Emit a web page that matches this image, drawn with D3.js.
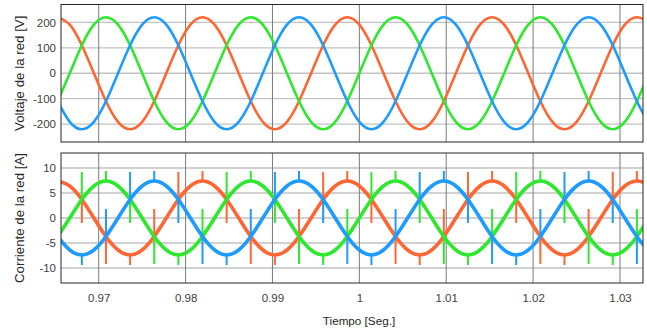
<!DOCTYPE html>
<html>
<head>
<meta charset="utf-8">
<script src="https://cdn.jsdelivr.net/npm/d3@7"></script>
<style>
  body { margin: 0; background: #fff; }
  svg { display: block; font-family: "Liberation Sans", Arial, sans-serif; }
  .tick-label { font-size: 11.5px; fill: #404040; }
  .axis-title { fill: #262626; }
</style>
</head>
<body>
<div id="chart"></div>
<script>
// samples, one every 30 electrical degrees (60 Hz)
const sampleStart = 0.96528;
const sampleStep = 1 / 720;

const voltsOrange = [220, 191, 110, 0, -110, -191, -220, -191, -110, 0, 110, 191,
  220, 191, 110, 0, -110, -191, -220, -191, -110, 0, 110, 191,
  220, 191, 110, 0, -110, -191, -220, -191, -110, 0, 110, 191,
  220, 191, 110, 0, -110, -191, -220, -191, -110, 0, 110, 191,
  220, 191, 110];
const voltsGreen = [-110, 0, 110, 191, 220, 191, 110, 0, -110, -191, -220, -191,
  -110, 0, 110, 191, 220, 191, 110, 0, -110, -191, -220, -191,
  -110, 0, 110, 191, 220, 191, 110, 0, -110, -191, -220, -191,
  -110, 0, 110, 191, 220, 191, 110, 0, -110, -191, -220, -191,
  -110, 0, 110];
const voltsBlue = [-110, -191, -220, -191, -110, 0, 110, 191, 220, 191, 110, 0,
  -110, -191, -220, -191, -110, 0, 110, 191, 220, 191, 110, 0,
  -110, -191, -220, -191, -110, 0, 110, 191, 220, 191, 110, 0,
  -110, -191, -220, -191, -110, 0, 110, 191, 220, 191, 110, 0,
  -110, -191, -220];

const ampsOrange = [7.4, 6.4, 3.7, 0, -3.7, -6.4, -7.4, -6.4, -3.7, 0, 3.7, 6.4,
  7.4, 6.4, 3.7, 0, -3.7, -6.4, -7.4, -6.4, -3.7, 0, 3.7, 6.4,
  7.4, 6.4, 3.7, 0, -3.7, -6.4, -7.4, -6.4, -3.7, 0, 3.7, 6.4,
  7.4, 6.4, 3.7, 0, -3.7, -6.4, -7.4, -6.4, -3.7, 0, 3.7, 6.4,
  7.4, 6.4, 3.7];
const ampsGreen = [-3.7, 0, 3.7, 6.4, 7.4, 6.4, 3.7, 0, -3.7, -6.4, -7.4, -6.4,
  -3.7, 0, 3.7, 6.4, 7.4, 6.4, 3.7, 0, -3.7, -6.4, -7.4, -6.4,
  -3.7, 0, 3.7, 6.4, 7.4, 6.4, 3.7, 0, -3.7, -6.4, -7.4, -6.4,
  -3.7, 0, 3.7, 6.4, 7.4, 6.4, 3.7, 0, -3.7, -6.4, -7.4, -6.4,
  -3.7, 0, 3.7];
const ampsBlue = [-3.7, -6.4, -7.4, -6.4, -3.7, 0, 3.7, 6.4, 7.4, 6.4, 3.7, 0,
  -3.7, -6.4, -7.4, -6.4, -3.7, 0, 3.7, 6.4, 7.4, 6.4, 3.7, 0,
  -3.7, -6.4, -7.4, -6.4, -3.7, 0, 3.7, 6.4, 7.4, 6.4, 3.7, 0,
  -3.7, -6.4, -7.4, -6.4, -3.7, 0, 3.7, 6.4, 7.4, 6.4, 3.7, 0,
  -3.7, -6.4, -7.4];

// commutation spikes, every second sample: tip value of each spike
const spikeTipsOrange = [9.4, -1.0, -9.2, -9.4, 1.8, 9.2, 9.4, -1.0, -9.2, -9.4, 1.8, 9.2,
  9.4, -1.0, -9.2, -9.4, 1.8, 9.2, 9.4, -1.0, -9.2, -9.4, 1.8, 9.2, 9.4, -1.0];
const spikeTipsGreen = [1.8, 9.2, 9.4, -1.0, -9.2, -9.4, 1.8, 9.2, 9.4, -1.0, -9.2, -9.4,
  1.8, 9.2, 9.4, -1.0, -9.2, -9.4, 1.8, 9.2, 9.4, -1.0, -9.2, -9.4, 1.8, 9.2];
const spikeTipsBlue = [-9.2, -9.4, 1.8, 9.2, 9.4, -1.0, -9.2, -9.4, 1.8, 9.2, 9.4, -1.0,
  -9.2, -9.4, 1.8, 9.2, 9.4, -1.0, -9.2, -9.4, 1.8, 9.2, 9.4, -1.0, -9.2, -9.4];

const xTicks = [0.97, 0.98, 0.99, 1.0, 1.01, 1.02, 1.03];
const voltTicks = [-200, -100, 0, 100, 200];
const ampTicks = [-10, -5, 0, 5, 10];

const colors = { orange: '#ff6633', green: '#2ee82e', blue: '#1e9bff' };

const width = 647;
const height = 329;
const left = 61;
const right = 643;

const times = voltsOrange.map((v, i) => sampleStart + i * sampleStep);

const x = d3.scaleLinear()
  .domain([0.96566, 1.03265])
  .range([left, right]);

const yVolt = d3.scaleLinear().domain([-270, 270]).range([142, 4.5]);
const yAmp = d3.scaleLinear().domain([-13, 13]).range([283, 153]);

const svg = d3.select('#chart')
  .append('svg')
    .attr('width', width)
    .attr('height', height);

function drawPanel(id, y, yTicks, title, series, lineWidth) {
  const [top, bottom] = [y.range()[1], y.range()[0]];
  const g = svg.append('g');

  g.append('clipPath')
    .attr('id', id)
    .append('rect')
      .attr('x', left)
      .attr('y', top)
      .attr('width', right - left)
      .attr('height', bottom - top);

  // grid
  g.selectAll('.hgrid')
    .data(yTicks)
    .join('line')
      .attr('x1', left)
      .attr('x2', right)
      .attr('y1', d => y(d))
      .attr('y2', d => y(d))
      .attr('stroke', '#c2c2c2')
      .attr('stroke-width', 1.3);
  g.selectAll('.vgrid')
    .data(xTicks)
    .join('line')
      .attr('x1', d => x(d))
      .attr('x2', d => x(d))
      .attr('y1', top)
      .attr('y2', bottom)
      .attr('stroke', '#7a7a7a')
      .attr('stroke-width', 1);

  const plot = g.append('g').attr('clip-path', `url(#${id})`);
  const line = d3.line()
    .x((d, i) => x(times[i]))
    .y(d => y(d))
    .curve(d3.curveNatural);

  series.forEach(s => {
    plot.append('path')
      .attr('d', line(s.values))
      .attr('fill', 'none')
      .attr('stroke', s.color)
      .attr('stroke-width', lineWidth)
      .attr('stroke-linejoin', 'round');
    if (s.spikes) {
      plot.append('g')
        .selectAll('line')
        .data(s.spikes)
        .join('line')
          .attr('x1', (d, j) => x(times[2 * j]))
          .attr('x2', (d, j) => x(times[2 * j]))
          .attr('y1', (d, j) => y(s.values[2 * j]))
          .attr('y2', d => y(d))
          .attr('stroke', s.color)
          .attr('stroke-width', 2);
    }
  });

  // frame
  g.append('rect')
    .attr('x', left)
    .attr('y', top)
    .attr('width', right - left)
    .attr('height', bottom - top)
    .attr('fill', 'none')
    .attr('stroke', '#262626')
    .attr('stroke-width', 1);

  g.append('g')
    .attr('transform', `translate(${left},0)`)
    .call(d3.axisLeft(y).tickValues(yTicks).tickSize(0).tickPadding(5).tickFormat(d => String(d)))
    .call(a => a.select('.domain').remove())
    .call(a => a.selectAll('text').attr('class', 'tick-label').attr('font-family', null).attr('font-size', null).attr('fill', null));

  g.append('text')
    .attr('class', 'axis-title')
    .attr('transform', `translate(24,${(top + bottom) / 2}) rotate(-90)`)
    .attr('text-anchor', 'middle')
    .attr('font-size', 13.3)
    .text(title);
}

drawPanel('clip-volt', yVolt, voltTicks, 'Voltaje de la red [V]', [
  { color: colors.orange, values: voltsOrange },
  { color: colors.green, values: voltsGreen },
  { color: colors.blue, values: voltsBlue }
], 2.6);

drawPanel('clip-amp', yAmp, ampTicks, 'Corriente de la red [A]', [
  { color: colors.orange, values: ampsOrange, spikes: spikeTipsOrange },
  { color: colors.green, values: ampsGreen, spikes: spikeTipsGreen },
  { color: colors.blue, values: ampsBlue, spikes: spikeTipsBlue }
], 3.6);

svg.append('g')
  .attr('transform', 'translate(0,283)')
  .call(d3.axisBottom(x).tickValues(xTicks).tickSize(0).tickPadding(11).tickFormat(d => String(+d.toFixed(2))))
  .call(a => a.select('.domain').remove())
  .call(a => a.selectAll('text').attr('class', 'tick-label').attr('font-family', null).attr('font-size', null).attr('fill', null));

svg.append('text')
  .attr('class', 'axis-title')
  .attr('x', 359)
  .attr('y', 325)
  .attr('text-anchor', 'middle')
  .attr('font-size', 11.7)
  .text('Tiempo [Seg.]');
</script>
</body>
</html>
